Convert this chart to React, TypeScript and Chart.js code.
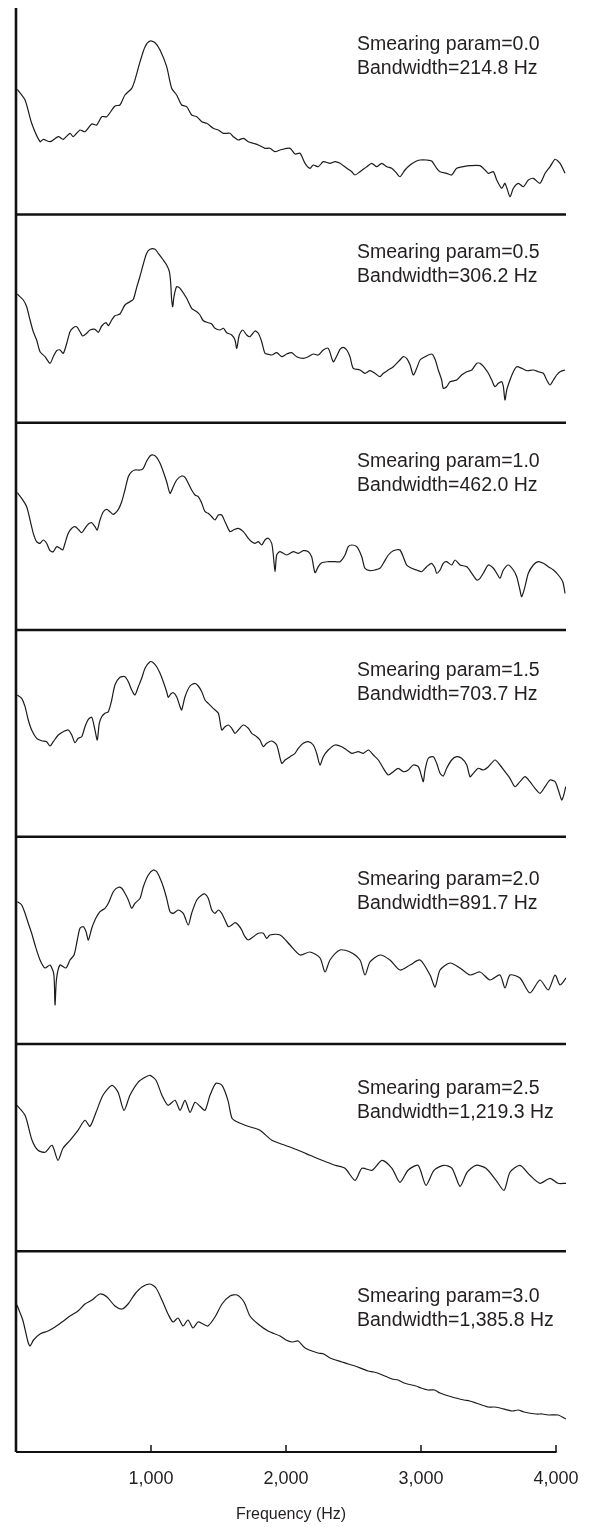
import React, { useEffect, useRef } from "react";
import { Chart, registerables } from "chart.js";

Chart.register(...registerables);

// ---- labels ----
const smearingParams = ["0.0", "0.5", "1.0", "1.5", "2.0", "2.5", "3.0"];
const bandwidths = ["214.8", "306.2", "462.0", "703.7", "891.7", "1,219.3", "1,385.8"];
const xTicks = [1000, 2000, 3000, 4000];
const freqMax = 4074;
const xTitle = "Frequency (Hz)";
// vertical extent (level range) of each panel, top to bottom
const panelRanges = [206.5, 208.2, 207.3, 206.7, 207.3, 207.3, 200.7];

// ---- spectra: [frequency (Hz), level (arbitrary units)] ----
const spectrum00: [number, number][] = [[10,125.2],[67,114.5],[116,91.2],[178,72.8],[202,75.2],[252,72.8],[313,77.8],[350,75.2],[400,81.2],[424,77.8],[474,84.5],[511,82.8],[561,90.5],[598,89.5],[635,97.8],[672,97.8],[733,108.5],[770,109.5],[807,119.5],[857,126.2],[881,134.5],[919,152.8],[956,167.8],[993,173.5],[1030,171.8],[1067,164.5],[1116,147.8],[1153,126.2],[1190,119.5],[1227,109.5],[1264,107.8],[1301,99.5],[1339,97.8],[1376,92.8],[1413,91.2],[1461,86.2],[1499,84.5],[1536,81.2],[1585,81.2],[1610,77.8],[1647,74.5],[1684,76.2],[1721,72.8],[1758,71.2],[1795,69.5],[1844,66.2],[1881,66.2],[1919,62.8],[1956,64.5],[2030,66.2],[2067,60.5],[2104,61.2],[2141,51.2],[2178,46.2],[2202,49.5],[2239,47.8],[2276,52.8],[2326,51.2],[2363,52.8],[2400,51.2],[2450,46.2],[2487,42.8],[2511,39.5],[2548,42.8],[2598,47.8],[2635,51.2],[2672,47.8],[2709,51.2],[2746,47.8],[2783,46.2],[2820,41.2],[2844,37.8],[2881,44.5],[2919,49.5],[2956,52.8],[2993,54.5],[3042,54.5],[3079,53.5],[3116,46.2],[3141,42.8],[3190,41.2],[3227,39.5],[3264,46.2],[3313,47.8],[3363,48.8],[3437,48.8],[3474,44.5],[3499,41.2],[3536,42.8],[3561,34.5],[3598,26.2],[3622,31.2],[3659,17.8],[3684,26.2],[3721,31.2],[3758,27.8],[3795,34.5],[3832,36.2],[3881,31.2],[3919,41.2],[3956,47.8],[3993,55.2],[4030,51.2],[4067,41.2]];

const spectrum05: [number, number][] = [[10,128.4],[54,122.7],[79,116],[104,102.7],[128,91],[153,82.7],[178,71],[215,66],[252,59.4],[276,66],[301,72],[326,72.7],[350,69.4],[376,79.4],[400,91],[424,95],[450,96],[474,91],[494,86.7],[524,89.4],[548,92.7],[585,93.4],[610,90.4],[635,96.7],[667,100],[684,97],[709,102.7],[733,107],[770,108.7],[807,117.7],[844,121],[869,123.4],[894,135.4],[919,146.7],[943,158.7],[968,169.4],[993,173.4],[1030,173.4],[1054,169.4],[1091,162.7],[1116,157.7],[1136,151],[1146,139.4],[1153,122.7],[1161,116],[1170,126],[1190,136],[1215,134.4],[1264,124.4],[1301,114.4],[1339,111],[1363,107.7],[1387,102],[1424,100],[1450,98.7],[1474,94.4],[1511,92.7],[1536,94.4],[1561,90],[1598,87.7],[1622,82.7],[1635,74.4],[1654,87.7],[1679,92.7],[1709,87.7],[1733,86],[1770,91.7],[1795,89.4],[1820,81],[1844,69.4],[1869,68.4],[1894,67.7],[1931,70],[1968,66],[2005,68.7],[2042,70],[2079,66],[2128,64.4],[2165,66],[2202,68.7],[2239,67.7],[2276,72.7],[2313,74.4],[2350,61],[2376,66.7],[2400,73.4],[2424,75.4],[2450,72.7],[2474,66],[2498,54.4],[2548,52.7],[2585,49.4],[2622,52],[2659,49.4],[2696,46],[2721,49.4],[2758,52.7],[2795,56],[2844,62.7],[2869,66],[2894,64.4],[2919,57.7],[2943,47.7],[2968,54.4],[2993,62.7],[3030,66],[3079,68.7],[3104,63.4],[3128,52.7],[3153,42.7],[3165,34.4],[3190,36],[3215,41],[3264,42.7],[3301,47.7],[3339,51],[3376,52.7],[3413,59.4],[3437,59.4],[3474,54.4],[3499,49.4],[3524,42.7],[3548,36],[3573,39.4],[3598,41],[3610,36],[3622,22.7],[3635,32.7],[3659,42.7],[3684,51],[3709,56],[3746,54.4],[3783,52],[3832,52.7],[3869,51],[3906,49.4],[3931,42.7],[3956,37.7],[3981,42.7],[4005,47.7],[4030,51],[4067,52.7]];

const spectrum10: [number, number][] = [[10,137.3],[42,131.7],[79,123.3],[104,110],[128,96.7],[153,88.3],[178,86.7],[202,90],[227,86.7],[252,79.3],[276,78.3],[301,83.3],[326,81.7],[346,80],[363,86.7],[387,96.7],[413,101.7],[437,103.3],[461,100.7],[487,97.3],[511,101.7],[536,106],[561,107.3],[585,103.3],[602,100],[622,110],[647,118.3],[672,120.7],[696,118.3],[721,115.7],[758,120.7],[783,128.3],[807,140],[832,153.3],[857,158.3],[881,160],[919,160],[943,161.7],[968,169],[993,174],[1017,175],[1042,172.7],[1067,166.7],[1091,158.3],[1116,148.3],[1141,136.7],[1165,143.3],[1190,150],[1227,154],[1252,152.7],[1276,146.7],[1301,140],[1326,135],[1350,133.3],[1376,126.7],[1400,118.3],[1424,116.7],[1450,113.3],[1474,110],[1499,115],[1524,115],[1548,108.3],[1585,98.3],[1610,100],[1647,101.7],[1684,98.3],[1721,91.7],[1746,88.3],[1770,86.7],[1795,88.3],[1820,85],[1844,90],[1869,91.7],[1894,86.7],[1906,75],[1919,58.3],[1931,75],[1956,78.3],[2005,75],[2054,78.3],[2091,76.7],[2128,79.3],[2165,78.3],[2190,73.3],[2215,57.3],[2239,63.3],[2264,67.3],[2313,68.3],[2363,68.3],[2400,68.3],[2437,75],[2461,83.3],[2487,85],[2524,83.3],[2561,73.3],[2585,61.7],[2622,59.3],[2659,60],[2696,61.7],[2721,66.7],[2758,75],[2795,79.3],[2844,80],[2894,65],[2931,61.7],[2968,60],[3005,58.3],[3042,63.3],[3079,66.7],[3104,61.7],[3116,56.7],[3141,60],[3165,66.7],[3190,68.3],[3227,65],[3252,70],[3289,65],[3339,63.3],[3376,56.7],[3413,50],[3437,51.7],[3461,56.7],[3499,65],[3536,61.7],[3561,56.7],[3585,51.7],[3610,60],[3647,65],[3684,60],[3709,53.3],[3733,40],[3746,33.3],[3770,43.3],[3795,56.7],[3832,65],[3869,68.3],[3906,66.7],[3943,63.3],[3981,60],[4017,55],[4050,48.3],[4067,36.7]];

const spectrum15: [number, number][] = [[10,141.7],[42,138.4],[67,130],[91,116.7],[116,106.7],[153,98.4],[190,96],[227,95],[252,90.7],[276,95],[313,101.7],[350,105],[387,106.7],[413,101.7],[437,94],[461,98.4],[487,100],[511,110],[536,117.4],[561,119.4],[585,106.7],[602,96.7],[617,113.4],[635,120],[659,123.4],[684,125],[709,136.7],[733,151.7],[770,159.4],[807,160],[832,155],[857,146.7],[881,141.7],[906,150],[931,158.4],[956,168.4],[993,175],[1017,174],[1042,170],[1067,163.4],[1091,155],[1116,145],[1128,139.4],[1146,142.7],[1165,144],[1190,140],[1215,130],[1227,126.7],[1252,140],[1289,150.7],[1326,153.4],[1350,150.7],[1376,145],[1400,136.7],[1424,133.4],[1461,128.4],[1499,123.4],[1524,106.7],[1548,110],[1573,111.7],[1598,108.4],[1622,103.4],[1647,106.7],[1684,111.7],[1721,108.4],[1746,103.4],[1783,100],[1807,96.7],[1832,90],[1857,93.4],[1894,95.7],[1931,91.7],[1968,73.4],[1993,76.7],[2030,80],[2067,83.4],[2091,88.4],[2128,93.4],[2165,95],[2202,91.7],[2227,83.4],[2252,71.7],[2276,80],[2313,86.7],[2363,91.7],[2413,90],[2450,86.7],[2487,83.4],[2535,85],[2573,83.4],[2610,86.7],[2647,81.7],[2684,76.7],[2721,68.4],[2758,61.7],[2795,65],[2832,68.4],[2869,65],[2906,66.7],[2943,71.7],[2980,70],[3005,60],[3017,55],[3030,66.7],[3054,78.4],[3091,80],[3116,73.4],[3141,63.4],[3165,60.7],[3190,68.4],[3227,76.7],[3264,80],[3301,78.4],[3339,71.7],[3363,60],[3387,63.4],[3424,68.4],[3461,66.7],[3499,70],[3548,76.7],[3585,71.7],[3622,65],[3659,58.4],[3696,50],[3733,55],[3770,60],[3807,55],[3844,48.4],[3881,43.4],[3919,50],[3956,56.7],[3993,55],[4017,46.7],[4042,36.7],[4054,40],[4072,50]];

const spectrum20: [number, number][] = [[10,142.3],[42,139],[67,130.7],[91,120.7],[116,110.7],[141,99],[178,84],[215,76],[252,79],[280,70],[289,39],[300,65],[326,79],[370,76],[400,84],[430,89],[454,104],[474,115.7],[499,117.3],[519,112.3],[536,104],[561,115.7],[585,124],[622,132.3],[659,135.7],[684,140.7],[721,152.3],[758,156.7],[783,155.7],[807,150.7],[832,144],[857,135.7],[881,140.7],[919,145.7],[943,157.3],[980,169],[1017,174],[1042,172.3],[1067,165.7],[1091,157.3],[1116,145.7],[1141,132.3],[1165,130.7],[1202,134],[1239,130.7],[1276,119],[1301,130.7],[1339,144],[1376,149],[1400,150],[1424,145.7],[1450,134],[1474,130.7],[1499,134],[1524,130.7],[1548,124],[1573,117.3],[1598,119],[1622,121.3],[1647,119],[1672,114],[1696,107.3],[1721,104],[1758,107.3],[1795,110.7],[1832,110.7],[1857,105.7],[1881,109],[1956,109],[2030,99],[2104,89],[2178,92],[2252,86],[2289,72],[2326,84],[2400,94],[2474,92],[2548,84],[2585,69],[2622,82],[2696,89],[2770,84],[2844,74],[2919,79],[2993,84],[3067,69],[3104,57],[3141,74],[3215,81],[3289,76],[3363,69],[3437,72],[3511,64],[3585,69],[3622,56],[3659,69],[3733,66],[3807,51],[3881,64],[3943,54],[3993,69],[4030,59],[4074,66]];

const spectrum25: [number, number][] = [[7,146],[67,136],[119,111],[163,101],[215,99],[267,106],[311,91],[348,103],[400,111],[459,121],[511,131],[548,125],[593,139],[644,156],[711,166],[756,159],[800,141],[844,156],[904,169],[956,174],[993,176],[1037,171],[1081,156],[1126,146],[1178,151],[1215,141],[1252,151],[1289,139],[1326,149],[1363,145],[1400,141],[1437,156],[1481,168],[1526,166],[1570,151],[1600,133],[1644,129],[1719,125],[1807,121],[1896,111],[1993,106],[2089,101],[2178,96],[2267,91],[2363,86],[2437,83],[2511,71],[2563,83],[2637,81],[2711,91],[2785,83],[2844,69],[2904,81],[2978,86],[3037,66],[3096,81],[3170,86],[3230,83],[3289,65],[3341,79],[3407,86],[3481,83],[3556,71],[3615,61],[3659,79],[3733,86],[3807,76],[3881,68],[3956,73],[4015,68],[4074,68]];

const spectrum30: [number, number][] = [[7,147],[50,132],[89,110],[104,106],[130,112],[178,118],[237,121],[289,125],[341,130],[400,136],[459,141],[511,148],[563,152],[622,158],[674,155],[733,146],[785,143],[830,148],[881,158],[933,165],[993,168],[1037,164],[1081,152],[1126,138],[1163,130],[1200,134],[1237,126],[1274,132],[1311,124],[1348,130],[1385,128],[1422,126],[1474,135],[1526,148],[1585,156],[1637,157],[1689,150],[1733,136],[1793,128],[1867,121],[1956,116],[2000,112],[2044,110],[2090,111],[2141,104],[2237,99],[2280,98],[2326,94],[2415,90],[2460,88],[2511,86],[2607,81],[2650,80],[2696,78],[2785,73],[2830,72],[2874,69],[2963,66],[3000,64],[3052,62],[3100,62],[3141,59],[3230,55],[3319,52],[3360,51],[3407,49],[3496,45],[3540,45],[3585,44],[3674,41],[3720,42],[3763,40],[3852,38],[3900,38],[3941,37],[4015,37],[4074,33]];

const spectra = [spectrum00, spectrum05, spectrum10, spectrum15, spectrum20, spectrum25, spectrum30];

const LINE = "#1c1c1c";
const AXIS = "#111111";
const TEXT = "#231f20";
const FONT = '"Liberation Sans", Arial, Helvetica, sans-serif';
const panelIds = spectra.map((_, i) => `p${i}`);
const textOffsets = [42.3, 43.7, 44.3, 46.3, 48.7, 50, 51];

const framePlugin = {
  id: "frame",
  afterDatasetsDraw(chart: any) {
    const { ctx, chartArea, scales } = chart;
    const x = scales.x;
    ctx.save();
    ctx.strokeStyle = AXIS;
    ctx.lineCap = "butt";
    ctx.lineWidth = 2.6;
    ctx.beginPath();
    ctx.moveTo(chartArea.left, chartArea.top);
    ctx.lineTo(chartArea.left, chartArea.bottom);
    ctx.stroke();
    panelIds.forEach((id, i) => {
      if (i === 0) return;
      const s = scales[id];
      ctx.beginPath();
      ctx.moveTo(chartArea.left, s.top);
      ctx.lineTo(chartArea.right, s.top);
      ctx.stroke();
    });
    ctx.lineWidth = 2;
    const xEnd = x.getPixelForValue(xTicks[xTicks.length - 1]);
    ctx.beginPath();
    ctx.moveTo(chartArea.left, chartArea.bottom);
    ctx.lineTo(xEnd + 0.5, chartArea.bottom);
    ctx.stroke();
    ctx.lineWidth = 1.5;
    xTicks.forEach((v) => {
      const px = x.getPixelForValue(v);
      ctx.beginPath();
      ctx.moveTo(px, chartArea.bottom);
      ctx.lineTo(px, chartArea.bottom - 7);
      ctx.stroke();
    });
    ctx.fillStyle = TEXT;
    ctx.font = `19.5px ${FONT}`;
    ctx.textAlign = "left";
    ctx.textBaseline = "alphabetic";
    panelIds.forEach((id, i) => {
      const s = scales[id];
      const tx = chartArea.left + 341;
      const ty = s.top + textOffsets[i];
      ctx.fillText(`Smearing param=${smearingParams[i]}`, tx, ty);
      ctx.fillText(`Bandwidth=${bandwidths[i]} Hz`, tx, ty + 24);
    });
    ctx.restore();
  },
};

export default function App() {
  const ref = useRef<HTMLCanvasElement | null>(null);
  useEffect(() => {
    if (!ref.current) return;
    const scales: any = {
      x: {
        type: "linear",
        position: "bottom",
        min: 0,
        max: freqMax,
        grid: { display: false, drawTicks: false },
        border: { display: false },
        afterBuildTicks: (s: any) => {
          s.ticks = xTicks.map((v) => ({ value: v }));
        },
        afterFit: (s: any) => {
          s.height = 75;
          s.paddingLeft = 0;
          s.paddingRight = 0;
        },
        ticks: {
          padding: 16,
          color: TEXT,
          font: { family: FONT, size: 18 },
          maxRotation: 0,
          callback: (v: any) => Number(v).toLocaleString("en-US"),
        },
        title: {
          display: true,
          text: xTitle,
          color: TEXT,
          font: { family: FONT, size: 16 },
          padding: { top: 0, bottom: 3 },
        },
      },
    };
    panelIds.forEach((id, i) => {
      scales[id] = {
        type: "linear",
        position: "right",
        display: false,
        stack: "panels",
        stackWeight: panelRanges[i],
        min: 0,
        max: panelRanges[i],
      };
    });
    const chart = new Chart(ref.current, {
      type: "line",
      data: {
        datasets: spectra.map((s, i) => ({
          label: `Smearing param=${smearingParams[i]}`,
          data: s.map(([f, l]) => ({ x: f, y: l })),
          yAxisID: panelIds[i],
          borderColor: LINE,
          borderWidth: 1.2,
          pointRadius: 0,
          tension: 0.25,
          fill: false,
        })),
      },
      options: {
        animation: false,
        responsive: false,
        devicePixelRatio: 1,
        layout: { padding: { left: 16, right: 23, top: 8, bottom: 0 } },
        plugins: {
          legend: { display: false },
          tooltip: { enabled: false },
          title: { display: false },
        },
        scales,
      },
      plugins: [framePlugin],
    });
    return () => chart.destroy();
  }, []);
  return (
    <canvas
      ref={ref}
      width={589}
      height={1527}
      style={{ position: "absolute", left: 0, top: 0, width: 589, height: 1527 }}
    />
  );
}
